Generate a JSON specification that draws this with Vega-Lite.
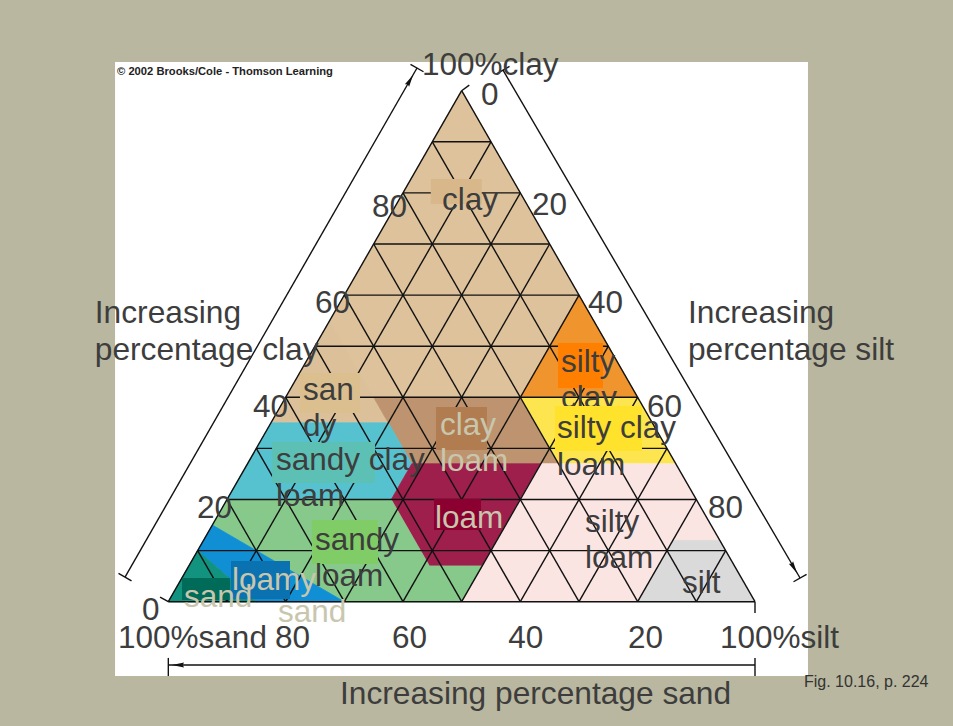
{
  "$schema": "https://vega.github.io/schema/vega-lite/v6.json",
  "width": 953,
  "height": 726,
  "autosize": {"type": "fit", "contains": "padding"},
  "padding": 0,
  "background": "#b9b79f",
  "config": {"view": {"stroke": null}},
  "datasets": {
    "panel": [{"x": -9.08, "y": -14.54, "x2": 109.03, "y2": 105.62}],
    "regions": [
      {"soil": "clay", "i": 1, "x": 50, "y": 100}, {"soil": "clay", "i": 2, "x": 27.5, "y": 55}, {"soil": "clay", "i": 3, "x": 35, "y": 40}, {"soil": "clay", "i": 4, "x": 60, "y": 40}, {"soil": "clay", "i": 5, "x": 70, "y": 60},
      {"soil": "sandy clay", "i": 1, "x": 27.5, "y": 55}, {"soil": "sandy clay", "i": 2, "x": 17.5, "y": 35}, {"soil": "sandy clay", "i": 3, "x": 37.5, "y": 35}, {"soil": "sandy clay", "i": 4, "x": 35, "y": 40},
      {"soil": "silty clay", "i": 1, "x": 70, "y": 60}, {"soil": "silty clay", "i": 2, "x": 60, "y": 40}, {"soil": "silty clay", "i": 3, "x": 80, "y": 40},
      {"soil": "clay loam", "i": 1, "x": 35, "y": 40}, {"soil": "clay loam", "i": 2, "x": 60, "y": 40}, {"soil": "clay loam", "i": 3, "x": 66.5, "y": 27}, {"soil": "clay loam", "i": 4, "x": 41.5, "y": 27},
      {"soil": "silty clay loam", "i": 1, "x": 60, "y": 40}, {"soil": "silty clay loam", "i": 2, "x": 80, "y": 40}, {"soil": "silty clay loam", "i": 3, "x": 86.5, "y": 27}, {"soil": "silty clay loam", "i": 4, "x": 66.5, "y": 27},
      {"soil": "sandy clay loam", "i": 1, "x": 17.5, "y": 35}, {"soil": "sandy clay loam", "i": 2, "x": 37.5, "y": 35}, {"soil": "sandy clay loam", "i": 3, "x": 41.5, "y": 27}, {"soil": "sandy clay loam", "i": 4, "x": 38, "y": 20}, {"soil": "sandy clay loam", "i": 5, "x": 10, "y": 20},
      {"soil": "loam", "i": 1, "x": 41.5, "y": 27}, {"soil": "loam", "i": 2, "x": 63.5, "y": 27}, {"soil": "loam", "i": 3, "x": 53.5, "y": 7}, {"soil": "loam", "i": 4, "x": 44.5, "y": 7}, {"soil": "loam", "i": 5, "x": 38, "y": 20},
      {"soil": "silt loam", "i": 1, "x": 63.5, "y": 27}, {"soil": "silt loam", "i": 2, "x": 86.5, "y": 27}, {"soil": "silt loam", "i": 3, "x": 94, "y": 12}, {"soil": "silt loam", "i": 4, "x": 86, "y": 12}, {"soil": "silt loam", "i": 5, "x": 80, "y": 0}, {"soil": "silt loam", "i": 6, "x": 50, "y": 0}, {"soil": "silt loam", "i": 7, "x": 53.5, "y": 7},
      {"soil": "silt", "i": 1, "x": 86, "y": 12}, {"soil": "silt", "i": 2, "x": 94, "y": 12}, {"soil": "silt", "i": 3, "x": 100, "y": 0}, {"soil": "silt", "i": 4, "x": 80, "y": 0},
      {"soil": "sandy loam", "i": 1, "x": 10, "y": 20}, {"soil": "sandy loam", "i": 2, "x": 38, "y": 20}, {"soil": "sandy loam", "i": 3, "x": 44.5, "y": 7}, {"soil": "sandy loam", "i": 4, "x": 53.5, "y": 7}, {"soil": "sandy loam", "i": 5, "x": 50, "y": 0}, {"soil": "sandy loam", "i": 6, "x": 30, "y": 0}, {"soil": "sandy loam", "i": 7, "x": 7.5, "y": 15},
      {"soil": "loamy sand", "i": 1, "x": 7.5, "y": 15}, {"soil": "loamy sand", "i": 2, "x": 30, "y": 0}, {"soil": "loamy sand", "i": 3, "x": 15, "y": 0}, {"soil": "loamy sand", "i": 4, "x": 5, "y": 10},
      {"soil": "sand", "i": 1, "x": 5, "y": 10}, {"soil": "sand", "i": 2, "x": 15, "y": 0}, {"soil": "sand", "i": 3, "x": 0, "y": 0}
    ],
    "grid": [
      {"x": 5, "y": 10, "x2": 95, "y2": 10}, {"x": 10, "y": 20, "x2": 90, "y2": 20}, {"x": 15, "y": 30, "x2": 85, "y2": 30},
      {"x": 20, "y": 40, "x2": 80, "y2": 40}, {"x": 25, "y": 50, "x2": 75, "y2": 50}, {"x": 30, "y": 60, "x2": 70, "y2": 60},
      {"x": 35, "y": 70, "x2": 65, "y2": 70}, {"x": 40, "y": 80, "x2": 60, "y2": 80}, {"x": 45, "y": 90, "x2": 55, "y2": 90},
      {"x": 10, "y": 0, "x2": 5, "y2": 10}, {"x": 20, "y": 0, "x2": 10, "y2": 20}, {"x": 30, "y": 0, "x2": 15, "y2": 30},
      {"x": 40, "y": 0, "x2": 20, "y2": 40}, {"x": 50, "y": 0, "x2": 25, "y2": 50}, {"x": 60, "y": 0, "x2": 30, "y2": 60},
      {"x": 70, "y": 0, "x2": 35, "y2": 70}, {"x": 80, "y": 0, "x2": 40, "y2": 80}, {"x": 90, "y": 0, "x2": 45, "y2": 90},
      {"x": 10, "y": 0, "x2": 55, "y2": 90}, {"x": 20, "y": 0, "x2": 60, "y2": 80}, {"x": 30, "y": 0, "x2": 65, "y2": 70},
      {"x": 40, "y": 0, "x2": 70, "y2": 60}, {"x": 50, "y": 0, "x2": 75, "y2": 50}, {"x": 60, "y": 0, "x2": 80, "y2": 40},
      {"x": 70, "y": 0, "x2": 85, "y2": 30}, {"x": 80, "y": 0, "x2": 90, "y2": 20}, {"x": 90, "y": 0, "x2": 95, "y2": 10},
      {"x": 0, "y": 0, "x2": 100, "y2": 0}, {"x": 0, "y": 0, "x2": 50, "y2": 100}, {"x": 100, "y": 0, "x2": 50, "y2": 100}
    ],
    "arrows": [
      {"x": -7.38, "y": 4.83, "x2": 42.39, "y2": 104.44},
      {"x": -8.49, "y": 5.56, "x2": -6.27, "y2": 4.10},
      {"x": 41.28, "y": 105.17, "x2": 43.50, "y2": 103.71},
      {"x": 57.05, "y": 104.03, "x2": 107.68, "y2": 4.64},
      {"x": 55.94, "y": 103.30, "x2": 58.16, "y2": 104.76},
      {"x": 106.57, "y": 3.91, "x2": 108.79, "y2": 5.37},
      {"x": 0, "y": -12.39, "x2": 100, "y2": -12.39},
      {"x": 0, "y": -11.0, "x2": 0, "y2": -14.54},
      {"x": 100, "y": -11.0, "x2": 100, "y2": -14.54},
      {"x": 50, "y": 100, "x2": 51.3, "y2": 101.1},
      {"x": 0, "y": 0, "x2": -1.41, "y2": 0.92},
      {"x": 100, "y": 0, "x2": 100, "y2": -2.2}
    ],
    "heads": [
      {"arrow": "clay", "x": 41.2, "y": 102.05},
      {"arrow": "silt", "x": 106.65, "y": 6.63},
      {"arrow": "sand", "x": 1.65, "y": -12.39}
    ],
    "boxes": [
      {"soil": "clay", "x": 44.74, "x2": 53.43, "y": 77.83, "y2": 82.72},
      {"soil": "sandy clay", "x": 22.44, "x2": 32.67, "y": 36.93, "y2": 44.75},
      {"soil": "sandy clay loam", "x": 17.68, "x2": 35.24, "y": 23.23, "y2": 31.25},
      {"soil": "clay loam", "x": 45.63, "x2": 54.32, "y": 29.69, "y2": 38.10},
      {"soil": "loam", "x": 45.29, "x2": 53.30, "y": 14.03, "y2": 20.10},
      {"soil": "silty clay", "x": 66.42, "x2": 74.09, "y": 41.82, "y2": 50.63},
      {"soil": "silty clay loam", "x": 65.91, "x2": 80.74, "y": 29.49, "y2": 38.30},
      {"soil": "sandy loam", "x": 24.49, "x2": 35.74, "y": 7.38, "y2": 15.99},
      {"soil": "loamy sand", "x": 10.69, "x2": 20.74, "y": 0.53, "y2": 7.96},
      {"soil": "sand", "x": 2.34, "x2": 10.52, "y": 0.33, "y2": 4.64}
    ],
    "labels": [
      {"soil": "clay", "text": "clay", "x": 46.65, "y": 76.6},
      {"soil": "sandy clay", "text": "san\ndy", "x": 22.96, "y": 39.47},
      {"soil": "sandy clay loam", "text": "sandy clay\nloam", "x": 18.36, "y": 25.77},
      {"soil": "clay loam", "text": "clay\nloam", "x": 46.31, "y": 32.62},
      {"soil": "loam", "text": "loam", "x": 45.46, "y": 14.42},
      {"soil": "silty clay", "text": "silty\nclay", "x": 66.93, "y": 44.95},
      {"soil": "silty clay loam", "text": "silty clay\nloam", "x": 66.25, "y": 32.04},
      {"soil": "silt loam", "text": "silty\nloam", "x": 71.02, "y": 13.64},
      {"soil": "silt", "text": "silt", "x": 87.56, "y": 1.70},
      {"soil": "sandy loam", "text": "sandy\nloam", "x": 25.0, "y": 10.12},
      {"soil": "loamy sand", "text": "loamy", "x": 10.86, "y": 2.29},
      {"soil": "loamy sand", "text": "sand", "x": 18.70, "y": -3.97},
      {"soil": "sand", "text": "sand", "x": 2.68, "y": -1.04}
    ],
    "axislabels": [
      {"text": "100%clay", "x": 43.24, "y": 103.07},
      {"text": "80", "x": 34.7, "y": 75.28},
      {"text": "60", "x": 25.0, "y": 56.5},
      {"text": "40", "x": 14.44, "y": 36.14},
      {"text": "20", "x": 4.89, "y": 16.38},
      {"text": "0", "x": -4.48, "y": -3.54},
      {"text": "0", "x": 53.29, "y": 97.2},
      {"text": "20", "x": 62.0, "y": 75.68},
      {"text": "40", "x": 71.53, "y": 56.5},
      {"text": "60", "x": 81.6, "y": 36.14},
      {"text": "80", "x": 92.0, "y": 16.38},
      {"text": "100%sand", "x": -8.57, "y": -9.06},
      {"text": "80", "x": 18.19, "y": -9.06},
      {"text": "60", "x": 38.14, "y": -9.06},
      {"text": "40", "x": 57.95, "y": -9.06},
      {"text": "20", "x": 78.34, "y": -9.06},
      {"text": "100%silt", "x": 94.03, "y": -9.06}
    ],
    "titles": [
      {"text": "Increasing\npercentage clay", "x": -12.53, "y": 54.54},
      {"text": "Increasing\npercentage silt", "x": 88.58, "y": 54.54},
      {"text": "Increasing percentage sand", "x": 29.27, "y": -20.02}
    ],
    "credit": [{"text": "© 2002 Brooks/Cole - Thomson Learning", "x": -8.74, "y": 103.07}],
    "fig": [{"text": "Fig. 10.16, p. 224", "x": 108.35, "y": -16.69}]
  },
  "encoding": {
    "x": {"field": "x", "type": "quantitative", "scale": {"domain": [-28.69, 133.75], "nice": false, "zero": false}, "axis": null},
    "y": {"field": "y", "type": "quantitative", "scale": {"domain": [-24.32, 117.75], "nice": false, "zero": false}, "axis": null}
  },
  "layer": [
    {
      "data": {"name": "panel"},
      "mark": {"type": "rect", "fill": "#ffffff"},
      "encoding": {"x2": {"field": "x2"}, "y2": {"field": "y2"}}
    },
    {
      "data": {"name": "regions"},
      "mark": {"type": "line", "interpolate": "linear-closed", "strokeWidth": 0.8},
      "encoding": {
        "detail": {"field": "soil"},
        "order": {"field": "i", "type": "quantitative"},
        "fill": {"field": "soil", "type": "nominal", "legend": null, "scale": {
          "domain": ["clay", "sandy clay", "silty clay", "clay loam", "silty clay loam", "sandy clay loam", "loam", "silt loam", "silt", "sandy loam", "loamy sand", "sand"],
          "range": ["#dec29c", "#dbc09a", "#f0952e", "#bd946f", "#fce54e", "#56c2d0", "#9f1f4c", "#fbe5e3", "#dadada", "#86c98b", "#108fd5", "#11937f"]}},
        "color": {"field": "soil", "type": "nominal", "legend": null, "scale": {
          "domain": ["clay", "sandy clay", "silty clay", "clay loam", "silty clay loam", "sandy clay loam", "loam", "silt loam", "silt", "sandy loam", "loamy sand", "sand"],
          "range": ["#dec29c", "#dbc09a", "#f0952e", "#bd946f", "#fce54e", "#56c2d0", "#9f1f4c", "#fbe5e3", "#dadada", "#86c98b", "#108fd5", "#11937f"]}}
      }
    },
    {
      "data": {"name": "grid"},
      "mark": {"type": "rule", "color": "#111111", "strokeWidth": 1.4},
      "encoding": {"x2": {"field": "x2"}, "y2": {"field": "y2"}}
    },
    {
      "data": {"name": "arrows"},
      "mark": {"type": "rule", "color": "#111111", "strokeWidth": 1.4},
      "encoding": {"x2": {"field": "x2"}, "y2": {"field": "y2"}}
    },
    {
      "data": {"name": "heads"},
      "transform": [{"filter": "datum.arrow === 'clay'"}],
      "mark": {"type": "point", "shape": "M0,-1L0.4,1L0,0.75L-0.4,1Z", "size": 150, "filled": true, "color": "#111111", "opacity": 1, "angle": 30}
    },
    {
      "data": {"name": "heads"},
      "transform": [{"filter": "datum.arrow === 'silt'"}],
      "mark": {"type": "point", "shape": "M0,-1L0.4,1L0,0.75L-0.4,1Z", "size": 150, "filled": true, "color": "#111111", "opacity": 1, "angle": 150}
    },
    {
      "data": {"name": "heads"},
      "transform": [{"filter": "datum.arrow === 'sand'"}],
      "mark": {"type": "point", "shape": "M0,-1L0.4,1L0,0.75L-0.4,1Z", "size": 150, "filled": true, "color": "#111111", "opacity": 1, "angle": 270}
    },
    {
      "data": {"name": "boxes"},
      "transform": [{"filter": "datum.soil !== 'silty clay loam'"}],
      "mark": {"type": "rect"},
      "encoding": {
        "x2": {"field": "x2"}, "y2": {"field": "y2"},
        "fill": {"field": "soil", "type": "nominal", "legend": null, "scale": {
          "domain": ["clay", "sandy clay", "sandy clay loam", "clay loam", "loam", "silty clay", "silty clay loam", "sandy loam", "loamy sand", "sand"],
          "range": ["#d8b88b", "#dbbf8e", "#5dc0b5", "#b17d50", "#8b0030", "#ff8000", "#ffe22b", "#80cc66", "#0a72b0", "#006b59"]}}
      }
    },
    {
      "data": {"name": "labels"},
      "transform": [{"filter": "datum.soil !== 'silty clay loam'"}],
      "mark": {"type": "text", "align": "left", "baseline": "alphabetic", "font": "Liberation Sans", "fontSize": 31.5, "lineBreak": "\n", "lineHeight": 36},
      "encoding": {
        "text": {"field": "text"},
        "color": {"field": "soil", "type": "nominal", "legend": null, "scale": {
          "domain": ["clay", "sandy clay", "sandy clay loam", "clay loam", "loam", "silty clay", "silty clay loam", "silt loam", "silt", "sandy loam", "loamy sand", "sand"],
          "range": ["#3d3d3d", "#3d3d3d", "#3d3d3d", "#c9c6ae", "#c9c6ae", "#3d3d3d", "#3d3d3d", "#3d3d3d", "#3d3d3d", "#3d3d3d", "#c9c6ae", "#c9c6ae"]}}
      }
    },
    {
      "data": {"name": "boxes"},
      "transform": [{"filter": "datum.soil === 'silty clay loam'"}],
      "mark": {"type": "rect", "fill": "#ffe22b"},
      "encoding": {"x2": {"field": "x2"}, "y2": {"field": "y2"}}
    },
    {
      "data": {"name": "labels"},
      "transform": [{"filter": "datum.soil === 'silty clay loam'"}],
      "mark": {"type": "text", "align": "left", "baseline": "alphabetic", "font": "Liberation Sans", "fontSize": 31.5, "lineBreak": "\n", "lineHeight": 37, "color": "#3d3d3d"},
      "encoding": {"text": {"field": "text"}}
    },
    {
      "data": {"name": "axislabels"},
      "mark": {"type": "text", "align": "left", "baseline": "alphabetic", "font": "Liberation Sans", "fontSize": 31.5, "color": "#3d3d3d"},
      "encoding": {"text": {"field": "text"}}
    },
    {
      "data": {"name": "titles"},
      "mark": {"type": "text", "align": "left", "baseline": "alphabetic", "font": "Liberation Sans", "fontSize": 31.7, "lineBreak": "\n", "lineHeight": 37, "color": "#3d3d3d"},
      "encoding": {"text": {"field": "text"}}
    },
    {
      "data": {"name": "credit"},
      "mark": {"type": "text", "align": "left", "baseline": "alphabetic", "font": "Liberation Sans", "fontSize": 11.2, "fontWeight": "bold", "color": "#222222"},
      "encoding": {"text": {"field": "text"}}
    },
    {
      "data": {"name": "fig"},
      "mark": {"type": "text", "align": "left", "baseline": "alphabetic", "font": "Liberation Sans", "fontSize": 16, "color": "#333333"},
      "encoding": {"text": {"field": "text"}}
    }
  ],
  "resolve": {"scale": {"fill": "independent", "color": "independent"}}
}
